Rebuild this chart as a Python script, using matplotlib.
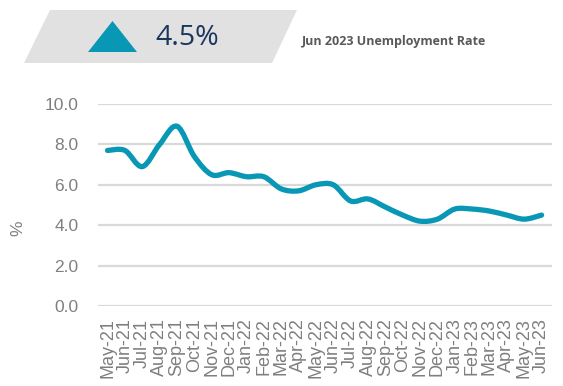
import numpy as np
import matplotlib
import matplotlib.pyplot as plt
from matplotlib.path import Path
from matplotlib.patches import PathPatch, Polygon

matplotlib.use('Agg')

months = ["May-21", "Jun-21", "Jul-21", "Aug-21", "Sep-21", "Oct-21", "Nov-21",
          "Dec-21", "Jan-22", "Feb-22", "Mar-22", "Apr-22", "May-22", "Jun-22",
          "Jul-22", "Aug-22", "Sep-22", "Oct-22", "Nov-22", "Dec-22", "Jan-23",
          "Feb-23", "Mar-23", "Apr-23", "May-23", "Jun-23"]
rate = [7.7, 7.7, 6.9, 8.0, 8.9, 7.4, 6.5, 6.6, 6.4, 6.4, 5.8, 5.7, 6.0, 6.0,
        5.2, 5.3, 4.9, 4.5, 4.2, 4.3, 4.8, 4.8, 4.7, 4.5, 4.3, 4.5]
yticks = [0.0, 2.0, 4.0, 6.0, 8.0, 10.0]
headline = "4.5%"
headline_caption = "Jun 2023 Unemployment Rate"

TEAL = "#0897B4"
GREY_TXT = "#7F7F7F"
GRID = "#D9D9D9"


def smooth_path(xs, ys):
    # Excel-style smoothed line: cubic Bezier segments through each point
    pts = np.column_stack([xs, ys]).astype(float)
    n = len(pts)
    verts = [pts[0]]
    codes = [Path.MOVETO]
    for i in range(n - 1):
        p0 = pts[max(i - 1, 0)]
        p1 = pts[i]
        p2 = pts[i + 1]
        p3 = pts[min(i + 2, n - 1)]
        c1 = p1 + (p2 - p0) / 6.0
        c2 = p2 - (p3 - p1) / 6.0
        verts += [c1, c2, p2]
        codes += [Path.CURVE4] * 3
    return Path(verts, codes)


def main():
    fig = plt.figure(figsize=(5.63, 3.86), dpi=100)
    W, H = 563.0, 386.0

    def fx(px, py):
        return (px / W, 1 - py / H)

    # header banner
    banner = Polygon([fx(50, 10), fx(297, 10), fx(272, 63), fx(24, 63)],
                     closed=True, transform=fig.transFigure,
                     facecolor="#E1E1E1", edgecolor="none")
    fig.add_artist(banner)
    tri = Polygon([fx(88, 52), fx(137, 52), fx(112.5, 21)], closed=True,
                  transform=fig.transFigure, facecolor=TEAL, edgecolor="none")
    fig.add_artist(tri)
    fig.text(*fx(155, 38), headline, fontsize=20.5, color="#1A365D",
             family="Open Sans", va="center", ha="left")
    fig.text(*fx(302, 41), headline_caption, fontsize=9, color="#595959",
             family="Open Sans", fontweight="bold", va="center", ha="left")

    ax = fig.add_axes([98 / W, 1 - 306 / H, (552 - 98) / W, (306 - 104) / H])
    x = np.arange(len(months))

    ax.add_patch(PathPatch(smooth_path(x, rate), facecolor="none",
                           edgecolor=TEAL, lw=3.8, capstyle="round",
                           joinstyle="round", zorder=3))

    ax.set_xlim(-0.55, len(months) - 0.4)
    ax.set_ylim(0, 10)
    ax.set_yticks(yticks)
    ax.set_yticklabels([f"{v:.1f}" for v in yticks])
    ax.set_xticks(x)
    ax.set_xticklabels(months, rotation=90)
    ax.grid(axis="y", color=GRID, lw=1.6)
    ax.set_axisbelow(True)
    for s in ax.spines.values():
        s.set_visible(False)
    ax.tick_params(length=0, colors=GREY_TXT)
    ax.tick_params(axis="y", pad=14, labelsize=12.5)
    ax.tick_params(axis="x", pad=9, labelsize=13)
    for lbl in ax.get_xticklabels() + ax.get_yticklabels():
        lbl.set_family("Liberation Sans")
    fig.text(*fx(18, 228), "%", rotation=90, fontsize=12.5, color=GREY_TXT,
             family="Liberation Sans", va="center", ha="center")

    fig.savefig("out.png", dpi=100)


if __name__ == "__main__":
    main()
